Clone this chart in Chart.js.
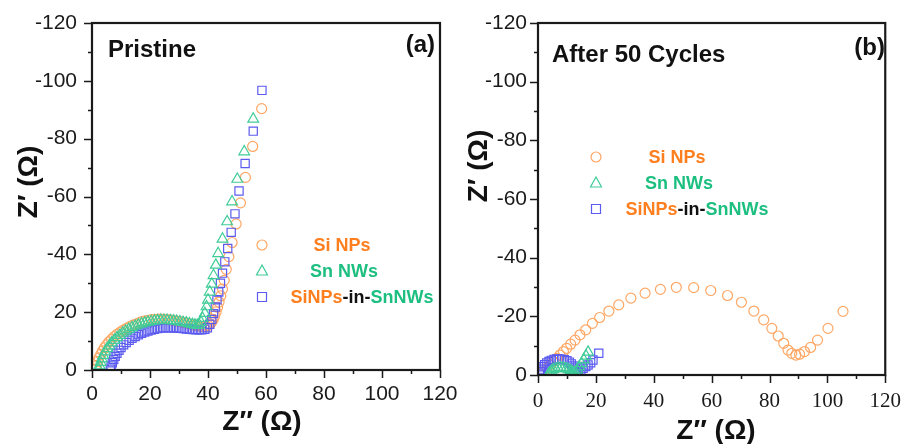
<!DOCTYPE html>
<html>
<head>
<meta charset="utf-8">
<script src="https://cdn.jsdelivr.net/npm/chart.js@4.4.1/dist/chart.umd.min.js"></script>
<style>
  body { margin: 0; background: #fff; }
  #wrap { position: relative; width: 907px; height: 444px; overflow: hidden; }
  canvas { position: absolute; top: 0; }
  #cA { left: 0; }
  #cB { left: 450px; }
</style>
</head>
<body>
<div id="wrap">
  <canvas id="cA" width="470" height="444"></canvas>
  <canvas id="cB" width="457" height="444"></canvas>
</div>
<script>
// tick labels (every 20 ohm)
const xTickLabels = ["0", "20", "40", "60", "80", "100", "120"];
const yTickLabelsA = ["0", "20", "-40", "-60", "-80", "-100", "-120"];
const yTickLabelsB = ["0", "-20", "-40", "-60", "-80", "-100", "-120"];

// series names
const seriesNames = ["Si NPs", "Sn NWs", "SiNPs-in-SnNWs"];

// (a) Pristine
const siA_x = [1.2,1.5,1.9,2.4,3.0,3.6,4.3,5.0,5.8,6.7, 7.6,8.6,9.6,10.6,11.7,12.8,13.9,15.0,16.1,17.2, 18.3,19.4,20.5,21.6,22.7,23.8,24.9,26.0,27.1,28.2, 29.3,30.4,31.5,32.6,33.7,34.8,35.8,36.8,37.7,38.5, 39.3,40.0,40.7,41.3,41.8,42.3,42.8,43.3,43.8,44.4, 45.0,45.6,46.3,47.2,48.3,49.7,51.2,52.9,55.4,58.5];
const siA_y = [0.3,1.6,2.9,4.2,5.4,6.6,7.7,8.7,9.7,10.6, 11.5,12.3,13.0,13.7,14.3,14.9,15.4,15.9,16.3,16.7, 17.0,17.2,17.4,17.5,17.6,17.6,17.5,17.4,17.3,17.1, 16.9,16.7,16.4,16.2,15.9,15.6,15.4,15.2,15.1,15.0, 15.1,15.4,15.9,16.6,17.5,18.7,20.1,21.7,23.5,25.6, 28.0,31.0,34.8,39.2,44.1,50.5,57.8,66.6,77.3,90.4];

const snA_x = [2.3,2.6,3.0,3.4,3.9,4.5,5.2,6.0,6.8,7.7, 8.6,9.6,10.6,11.6,12.7,13.8,14.9,16.0,17.1,18.2, 19.3,20.4,21.5,22.6,23.7,24.8,25.9,27.0,28.1,29.2, 30.3,31.4,32.5,33.6,34.6,35.5,36.3,37.0,37.6,38.1, 38.9,39.5,40.0,40.6,41.3,41.9,42.7,43.5,45.0,46.6, 48.3,50.1,52.5,55.6];
const snA_y = [0.3,1.5,2.7,3.9,5.1,6.3,7.4,8.4,9.4,10.3, 11.2,12.0,12.8,13.5,14.1,14.7,15.2,15.6,16.0,16.3, 16.6,16.8,17.0,17.1,17.2,17.2,17.2,17.1,17.0,16.9, 16.7,16.5,16.3,16.0,15.8,15.6,15.5,15.6,16.5,17.9, 19.6,21.9,24.2,27.0,29.7,32.7,36.3,40.3,45.3,51.3, 58.2,66.0,75.5,86.8];

const mixA_x = [6.3,6.6,7.0,7.5,8.0,8.6,9.3,10.0,10.9,11.8, 12.8,13.8,14.9,16.0,17.1,18.2,19.3,20.4,21.5,22.6, 23.7,24.8,25.9,27.0,28.1,29.2,30.3,31.4,32.5,33.6, 34.7,35.8,36.9,37.9,38.9,39.8,40.6,41.3,41.9,42.5, 43.1,43.7,44.3,45.0,45.8,46.8,48.0,49.3,50.7,52.8, 55.6,58.6];
const mixA_y = [0.3,1.4,2.5,3.6,4.7,5.8,6.8,7.8,8.7,9.5, 10.3,11.0,11.6,12.2,12.7,13.1,13.5,13.8,14.1,14.3, 14.5,14.6,14.6,14.6,14.6,14.5,14.4,14.3,14.2,14.1, 14.0,13.9,13.9,13.9,14.1,14.6,15.8,17.5,19.5,21.8, 24.3,27.0,30.0,33.5,37.4,42.0,47.6,54.0,61.9,71.4, 82.6,96.7];

// (b) After 50 cycles
const siB_x = [1.9,3.1,4.2,5.4,6.5,7.6,8.8,9.9,11.3,12.8, 14.5,16.5,18.8,21.3,24.5,27.9,32.1,37.0,42.3,47.8, 53.8,59.7,65.5,70.3,74.6,78.0,80.8,83.0,84.9,86.4, 87.7,89.1,90.4,92.1,94.2,96.6,100.2,105.4];
const siB_y = [1.1,2.3,3.4,4.6,5.7,6.8,8.0,9.1,10.5,11.9, 13.7,15.4,17.6,19.6,21.8,23.9,26.2,27.9,29.2,29.9, 29.8,28.8,27.1,24.8,21.8,18.8,15.9,13.3,10.8,8.5, 7.4,6.8,7.1,8.0,9.4,11.9,15.9,21.7];

const snB_x = [3.6,4.0,4.6,5.3,6.1,7.0,7.9,8.8,9.7,10.5, 11.3,11.9,12.4,12.9,13.5,14.2,15.0,15.8,16.6,17.3];
const snB_y = [0.2,0.8,1.4,1.9,2.2,2.4,2.5,2.4,2.2,1.9, 1.5,1.0,0.6,0.9,1.8,2.8,3.9,5.2,6.5,7.8];

const mixB_x = [0.5,0.8,1.2,1.7,2.3,3.0,3.8,4.6,5.5,6.4, 7.3,8.2,9.1,10.0,10.8,11.5,12.1,12.6,13.0,13.3, 13.6,14.0,14.8,15.6,16.5,17.3,18.2,19.0,21.0];
const mixB_y = [0.3,1.2,2.0,2.8,3.5,4.1,4.6,5.0,5.3,5.5, 5.5,5.4,5.2,4.9,4.4,3.8,3.1,2.4,1.7,1.1, 0.7,1.0,1.6,2.3,2.9,3.4,4.2,5.1,7.4];

const ORANGE = "#ff7f1e", GREEN = "#1dbf80";
const ORANGE_MK = "#ffa765", GREEN_MK = "#3fcc98", BLUE_MK = "#5b5bf0";
const SANS = "'Liberation Sans', Arial, sans-serif";
const SERIF = "'Liberation Serif', 'Times New Roman', serif";

const pts = (xs, ys) => xs.map((x, i) => ({ x: x, y: ys[i] }));

function series(xs, ys, i) {
  const style = [
    { pointStyle: "circle", color: ORANGE_MK, r: 5, order: 2 },
    { pointStyle: "triangle", color: GREEN_MK, r: 6.2, order: 0 },
    { pointStyle: "rect", color: BLUE_MK, r: 5.8, order: 1 }
  ][i];
  return {
    label: seriesNames[i],
    data: pts(xs, ys),
    pointStyle: style.pointStyle,
    pointRadius: style.r,
    pointBorderWidth: 1.2,
    borderColor: style.color,
    backgroundColor: "rgba(0,0,0,0)",
    showLine: false,
    order: style.order
  };
}

// frame, tick marks, axis titles, panel labels, legend
const deco = {
  id: "deco",
  afterDraw(chart, args, o) {
    const { ctx, chartArea: a, scales } = chart;
    const x = scales.x, y = scales.y;
    ctx.save();
    ctx.strokeStyle = "#1a1a1a";
    ctx.lineWidth = 1.5;
    ctx.beginPath();
    x.ticks.forEach((t, i) => {
      const p = Math.round(x.getPixelForTick(i)) + 0.5;
      const len = t.label === "" ? 4 : 8;
      ctx.moveTo(p, a.bottom); ctx.lineTo(p, a.bottom + len);
    });
    y.ticks.forEach((t, i) => {
      const p = Math.round(y.getPixelForTick(i)) + 0.5;
      const len = t.label === "" ? 4 : 8;
      ctx.moveTo(a.left, p); ctx.lineTo(a.left - len, p);
    });
    ctx.stroke();
    ctx.lineWidth = 2.2;
    ctx.strokeRect(a.left, a.top, a.right - a.left, a.bottom - a.top);

    ctx.fillStyle = "#111";
    ctx.textBaseline = "alphabetic";
    ctx.font = "bold 28px " + SANS;
    ctx.textAlign = "center";
    ctx.fillText("Z\u2033 (\u03a9)", o.xTitle[0], o.xTitle[1]);
    ctx.save();
    ctx.translate(o.yTitle[0], o.yTitle[1]);
    ctx.rotate(-Math.PI / 2);
    ctx.fillText("Z\u2032 (\u03a9)", 0, 0);
    ctx.restore();

    ctx.font = "bold 24px " + SANS;
    ctx.textAlign = "left";
    ctx.fillText(o.title, o.titlePos[0], o.titlePos[1]);
    ctx.textAlign = "right";
    ctx.fillText(o.tag, o.tagPos[0], o.tagPos[1]);

    // legend
    const mk = [ORANGE_MK, GREEN_MK, BLUE_MK];
    const rows = [
      [[seriesNames[0], ORANGE]],
      [[seriesNames[1], GREEN]],
      [["SiNPs", ORANGE], ["-in-", "#111"], ["SnNWs", GREEN]]
    ];
    ctx.font = "bold 18px " + SANS;
    ctx.textBaseline = "middle";
    ctx.textAlign = "left";
    rows.forEach((row, i) => {
      const cy = o.legY[i];
      const mx = o.legMarkX;
      ctx.strokeStyle = mk[i];
      ctx.lineWidth = 1.2;
      ctx.beginPath();
      if (i === 0) ctx.arc(mx, cy, 5, 0, Math.PI * 2);
      else if (i === 1) { ctx.moveTo(mx, cy - 6); ctx.lineTo(mx + 5.5, cy + 4); ctx.lineTo(mx - 5.5, cy + 4); ctx.closePath(); }
      else ctx.rect(mx - 4.5, cy - 4.5, 9, 9);
      ctx.stroke();
      const w = row.reduce((s, seg) => s + ctx.measureText(seg[0]).width, 0);
      let tx = o.legTextX[i] - w / 2;
      row.forEach(seg => {
        ctx.fillStyle = seg[1];
        ctx.fillText(seg[0], tx, cy + 1);
        tx += ctx.measureText(seg[0]).width;
      });
    });
    ctx.restore();
  }
};

function makeChart(id, sets, yLabels, xFont, fit, decoOpts) {
  return new Chart(document.getElementById(id), {
    type: "scatter",
    data: { datasets: sets },
    options: {
      responsive: false,
      animation: false,
      layout: { padding: fit.pad },
      plugins: { legend: { display: false }, tooltip: { enabled: false }, deco: decoOpts },
      scales: {
        x: {
          type: "linear", min: 0, max: 120,
          afterFit: s => { s.height = fit.xh; },
          border: { display: false },
          grid: { drawOnChartArea: false, tickLength: 8, tickColor: "rgba(0,0,0,0)" },
          ticks: {
            stepSize: 10, autoSkip: false, maxRotation: 0, padding: fit.xpad,
            color: "#1a1a1a", font: xFont,
            callback: v => (v % 20 === 0 ? xTickLabels[v / 20] : "")
          }
        },
        y: {
          type: "linear", min: 0, max: 120,
          afterFit: s => { s.width = fit.yw; },
          border: { display: false },
          grid: { drawOnChartArea: false, tickLength: 8, tickColor: "rgba(0,0,0,0)" },
          ticks: {
            stepSize: 10, autoSkip: false, padding: fit.ypad,
            color: "#1a1a1a", font: { family: SANS, size: 21 },
            callback: v => (v % 20 === 0 ? yLabels[v / 20] : "")
          }
        }
      }
    },
    plugins: [deco]
  });
}

makeChart("cA",
  [series(siA_x, siA_y, 0), series(snA_x, snA_y, 1), series(mixA_x, mixA_y, 2)],
  yTickLabelsA,
  { family: SANS, size: 21 },
  { pad: { left: 0, top: 23, right: 30, bottom: 0 }, xh: 74, yw: 92, xpad: 4, ypad: 7 },
  {
    title: "Pristine", titlePos: [108, 57], tag: "(a)", tagPos: [435, 52],
    xTitle: [262, 430], yTitle: [37, 182],
    legMarkX: 262, legY: [245, 271, 297], legTextX: [342, 344, 362]
  });

makeChart("cB",
  [series(siB_x, siB_y, 0), series(snB_x, snB_y, 1), series(mixB_x, mixB_y, 2)],
  yTickLabelsB,
  { family: SERIF, size: 21 },
  { pad: { left: 0, top: 23, right: 18, bottom: 0 }, xh: 69, yw: 88, xpad: 6, ypad: 3 },
  {
    title: "After 50 Cycles", titlePos: [102, 62], tag: "(b)", tagPos: [435, 55],
    xTitle: [266, 439], yTitle: [37, 166],
    legMarkX: 146, legY: [157, 183, 209], legTextX: [227, 229, 247]
  });
</script>
</body>
</html>
